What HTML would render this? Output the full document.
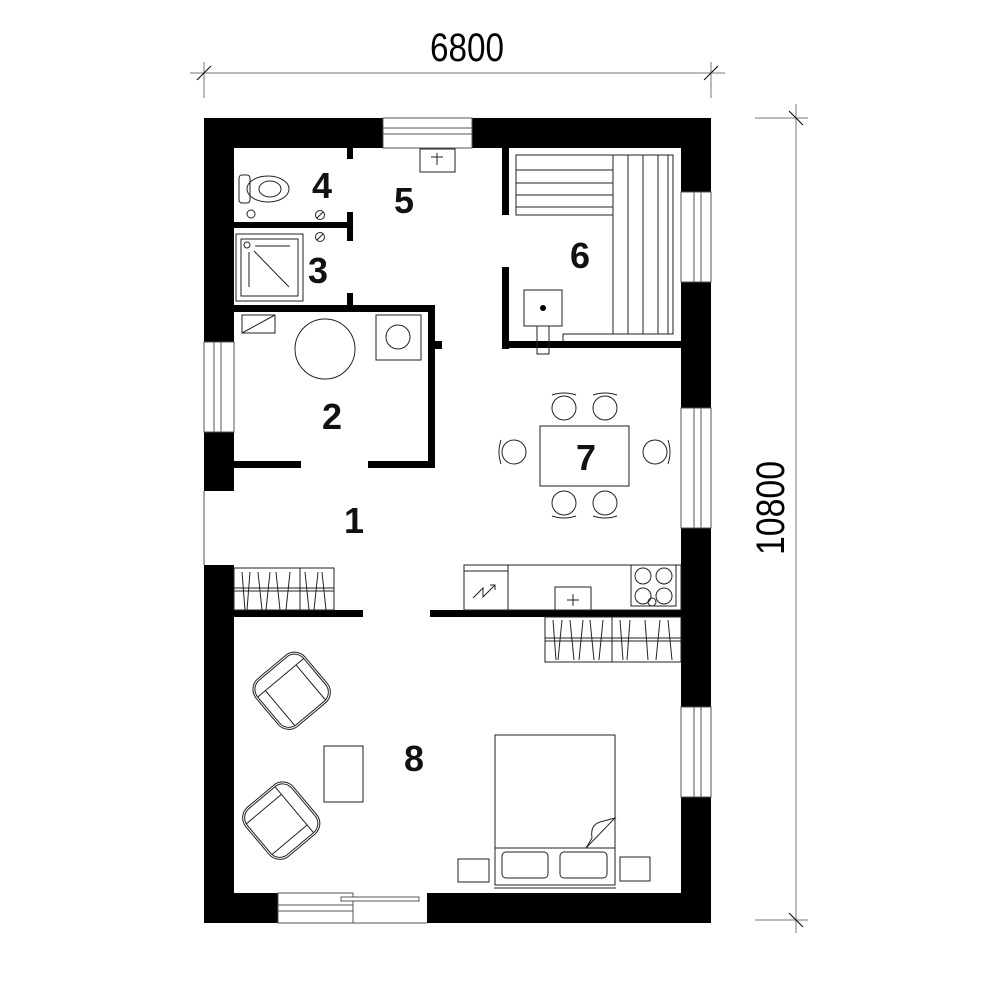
<!DOCTYPE html>
<html><head><meta charset="utf-8"><style>
html,body{margin:0;padding:0;background:#fff;}
svg{display:block;}
text{font-family:"Liberation Sans",sans-serif;}
</style></head><body>
<svg width="1000" height="1000" viewBox="0 0 1000 1000" xmlns="http://www.w3.org/2000/svg">
<rect width="1000" height="1000" fill="#fff"/>
<!-- dimensions -->
<g stroke="#777" stroke-width="1" fill="none">
<line x1="190" y1="73" x2="725" y2="73"/>
<line x1="204" y1="62" x2="204" y2="98"/>
<line x1="711" y1="62" x2="711" y2="98"/>
<line x1="197" y1="80" x2="211" y2="66" stroke="#000"/>
<line x1="704" y1="80" x2="718" y2="66" stroke="#000"/>
<line x1="796" y1="104" x2="796" y2="933"/>
<line x1="755" y1="118" x2="808" y2="118"/>
<line x1="755" y1="920" x2="808" y2="920"/>
<line x1="789" y1="111" x2="803" y2="125" stroke="#000"/>
<line x1="789" y1="913" x2="803" y2="927" stroke="#000"/>
</g>
<text x="467" y="61" font-size="40" text-anchor="middle" textLength="74" lengthAdjust="spacingAndGlyphs">6800</text>
<text transform="translate(784,508) rotate(-90)" font-size="40" text-anchor="middle" textLength="94" lengthAdjust="spacingAndGlyphs">10800</text>

<!-- outer walls -->
<g fill="#000">
<rect x="204" y="118" width="179" height="30"/>
<rect x="472" y="118" width="239" height="30"/>
<rect x="204" y="118" width="30" height="224"/>
<rect x="204" y="432" width="30" height="59"/>
<rect x="204" y="565" width="30" height="358"/>
<rect x="681" y="118" width="30" height="74"/>
<rect x="681" y="282" width="30" height="126"/>
<rect x="681" y="528" width="30" height="179"/>
<rect x="681" y="797" width="30" height="126"/>
<rect x="204" y="893" width="74" height="30"/>
<rect x="427" y="893" width="284" height="30"/>
<!-- interior walls -->
<rect x="347" y="148" width="6" height="11"/>
<rect x="347" y="212" width="6" height="29"/>
<rect x="234" y="222" width="119" height="6"/>
<rect x="347" y="293" width="6" height="12"/>
<rect x="234" y="305" width="201" height="7"/>
<rect x="428" y="305" width="7" height="163"/>
<rect x="435" y="341" width="7" height="8"/>
<rect x="234" y="461" width="67" height="7"/>
<rect x="368" y="461" width="67" height="7"/>
<rect x="502" y="148" width="7" height="67"/>
<rect x="502" y="267" width="7" height="82"/>
<rect x="502" y="341" width="179" height="7"/>
<rect x="234" y="610" width="129" height="7"/>
<rect x="430" y="610" width="251" height="7"/>
</g>
<!-- windows -->
<g stroke="#555" stroke-width="1" fill="#fff">
<rect x="383" y="118" width="89" height="30"/>
<line x1="383" y1="128" x2="472" y2="128"/><line x1="383" y1="134" x2="472" y2="134"/>
<rect x="204" y="342" width="30" height="90"/>
<line x1="214" y1="342" x2="214" y2="432"/><line x1="221" y1="342" x2="221" y2="432"/>
<rect x="681" y="192" width="30" height="90"/>
<line x1="694" y1="192" x2="694" y2="282"/><line x1="701" y1="192" x2="701" y2="282"/>
<rect x="681" y="408" width="30" height="120"/>
<line x1="694" y1="408" x2="694" y2="528"/><line x1="701" y1="408" x2="701" y2="528"/>
<rect x="681" y="707" width="30" height="90"/>
<line x1="694" y1="707" x2="694" y2="797"/><line x1="701" y1="707" x2="701" y2="797"/>
<rect x="278" y="893" width="75" height="30"/>
<line x1="278" y1="905" x2="353" y2="905"/><line x1="278" y1="911" x2="353" y2="911"/>
<rect x="341" y="897" width="78" height="4"/>
<line x1="204" y1="491" x2="204" y2="565"/>
<line x1="353" y1="923" x2="427" y2="923"/>
</g>

<!-- fixtures -->
<g stroke="#222" stroke-width="1" fill="none">
<!-- sink top -->
<rect x="420" y="149" width="35" height="23"/><line x1="437" y1="153" x2="437" y2="165"/><line x1="431" y1="157" x2="443" y2="157"/>
<!-- toilet -->
<rect x="239" y="175" width="11" height="28" rx="3"/>
<ellipse cx="268" cy="189" rx="21" ry="13"/><ellipse cx="270" cy="189" rx="11" ry="8"/>
<circle cx="251" cy="214" r="4"/>
<circle cx="320" cy="215" r="4.5"/><line x1="317" y1="218" x2="323" y2="212"/>
<circle cx="320" cy="237" r="4.5"/><line x1="317" y1="240" x2="323" y2="234"/>
<!-- shower -->
<rect x="236" y="234" width="67" height="67"/><rect x="241" y="239" width="57" height="57"/>
<circle cx="247" cy="245" r="3"/><line x1="255" y1="246" x2="290" y2="246"/><line x1="249" y1="252" x2="249" y2="287"/><line x1="254" y1="251" x2="289" y2="287"/>
<!-- room 2 -->
<rect x="242" y="315" width="33" height="18"/><line x1="242" y1="333" x2="275" y2="315"/>
<circle cx="325" cy="349" r="30"/>
<rect x="376" y="315" width="45" height="45"/><circle cx="398" cy="337" r="12"/>
<!-- sauna -->
<rect x="516" y="155" width="97" height="60"/>
<line x1="516" y1="170" x2="613" y2="170"/><line x1="516" y1="183" x2="613" y2="183"/><line x1="516" y1="195" x2="613" y2="195"/><line x1="516" y1="207" x2="613" y2="207"/>
<rect x="613" y="155" width="60" height="179"/>
<line x1="628" y1="155" x2="628" y2="334"/><line x1="643" y1="155" x2="643" y2="334"/><line x1="658" y1="155" x2="658" y2="334"/><line x1="668" y1="155" x2="668" y2="334"/>
<polyline points="563,341 563,334 613,334"/>
<rect x="524" y="290" width="38" height="36"/>
<rect x="537" y="326" width="12" height="28"/>
<!-- table & chairs -->
<rect x="540" y="426" width="89" height="60"/>
<circle cx="564" cy="408" r="12"/><circle cx="605" cy="408" r="12"/>
<circle cx="564" cy="503" r="12"/><circle cx="605" cy="503" r="12"/>
<circle cx="514" cy="452" r="12"/><circle cx="655" cy="452" r="12"/>
<path d="M552 395 Q564 391 576 395 M593 395 Q605 391 617 395 M552 516 Q564 520 576 516 M593 516 Q605 520 617 516 M501 440 Q497 452 501 464 M668 440 Q672 452 668 464"/>
<!-- left wardrobe -->
<rect x="234" y="568" width="100" height="42"/>
<line x1="234" y1="588" x2="334" y2="588"/><line x1="234" y1="591" x2="334" y2="591"/>
<line x1="300" y1="568" x2="300" y2="610"/>
<path d="M242 572 L245 610 M250 572 L247 610 M258 572 L262 610 M270 572 L266 610 M276 572 L280 610 M290 572 L286 610 M305 572 L309 610 M318 572 L314 610 M322 572 L326 610"/>
<!-- kitchen -->
<rect x="464" y="565" width="217" height="45"/>
<rect x="464" y="565" width="44" height="45"/><line x1="464" y1="571" x2="508" y2="571"/>
<polyline points="473,598 483,588 483,597 495,585"/><polyline points="490,585 495,585 495,590"/>
<rect x="555" y="587" width="36" height="23"/><line x1="573" y1="594" x2="573" y2="606"/><line x1="567" y1="600" x2="579" y2="600"/>
<rect x="631" y="565" width="45" height="41"/>
<circle cx="643" cy="576" r="8"/><circle cx="664" cy="576" r="8"/><circle cx="643" cy="596" r="8"/><circle cx="664" cy="596" r="8"/>
<circle cx="652" cy="602" r="4"/>
<!-- right wardrobe -->
<rect x="545" y="617" width="136" height="45"/>
<line x1="545" y1="638" x2="681" y2="638"/><line x1="545" y1="641" x2="681" y2="641"/>
<line x1="612" y1="617" x2="612" y2="662"/>
<path d="M553 620 L556 660 M562 620 L558 660 M570 620 L574 660 M583 620 L579 660 M590 620 L594 660 M603 620 L599 660 M620 620 L623 660 M630 620 L627 660 M645 620 L648 660 M660 620 L656 660 M668 620 L672 660"/>
<!-- armchairs -->
<g transform="translate(291,690) rotate(-40)">
<rect x="-32" y="-30" width="64" height="62" rx="14"/>
<rect x="-30" y="-28" width="60" height="58" rx="12"/>
<path d="M-30 -16 L30 -16 M-20 -16 L-20 30 M20 -16 L20 30"/>
</g>
<g transform="translate(282,820) rotate(50)">
<rect x="-32" y="-30" width="64" height="62" rx="14"/>
<rect x="-30" y="-28" width="60" height="58" rx="12"/>
<path d="M-30 -16 L30 -16 M-20 -16 L-20 30 M20 -16 L20 30"/>
</g>
<rect x="324" y="746" width="39" height="56"/>
<!-- bed -->
<rect x="495" y="735" width="120" height="150"/>
<line x1="495" y1="848" x2="615" y2="848"/>
<line x1="495" y1="885" x2="615" y2="885"/><line x1="494" y1="888" x2="616" y2="888"/>
<rect x="502" y="852" width="46" height="26" rx="4"/><rect x="560" y="852" width="47" height="26" rx="4"/>
<path d="M586 848 L615 818 L600 822 Q590 825 592 838 Z" fill="#fff"/>
<rect x="458" y="859" width="31" height="23"/><rect x="620" y="857" width="30" height="24"/>
</g>
<circle cx="543" cy="308" r="3" fill="#000"/>

<!-- labels -->
<g font-size="36" font-weight="bold" text-anchor="middle" fill="#111">
<text x="322" y="198">4</text>
<text x="404" y="213">5</text>
<text x="318" y="283">3</text>
<text x="580" y="268">6</text>
<text x="332" y="429">2</text>
<text x="586" y="470">7</text>
<text x="354" y="533">1</text>
<text x="414" y="771">8</text>
</g>
</svg>
</body></html>
